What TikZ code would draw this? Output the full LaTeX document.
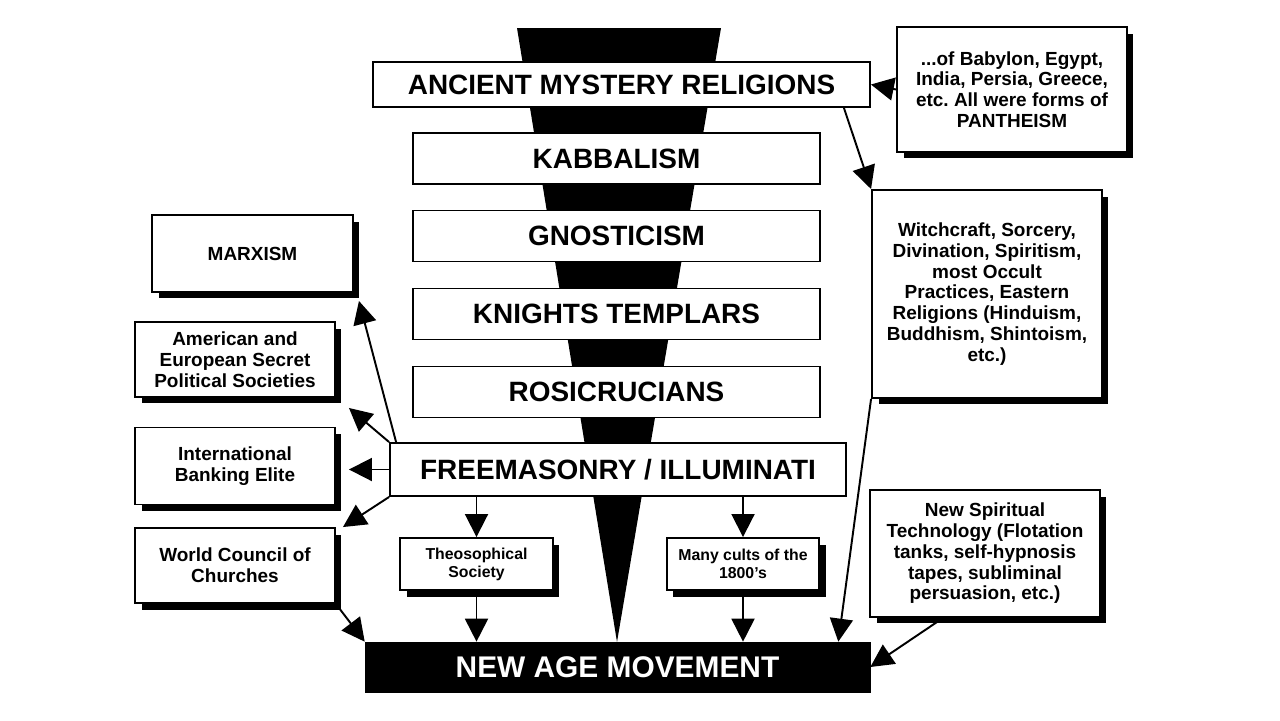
\documentclass[tikz,border=0pt]{standalone}
\usepackage{fontspec}
\setmainfont{Liberation Sans}
\usetikzlibrary{arrows.meta,shadows}
\frenchspacing

\begin{document}
\begin{tikzpicture}[
    x=0.02cm, y=-0.02cm,
    every node/.style={align=center, inner sep=0pt},
    mainbox/.style={draw, fill=white, line width=1.1pt, font=\fontsize{15.9}{19}\selectfont\bfseries},
    layerbox/.style={mainbox, minimum width=8.14cm, minimum height=1.02cm},
    sidebox/.style={draw, fill=white, line width=1.1pt, font=\fontsize{10.8}{11.8}\selectfont\bfseries,
        drop shadow={shadow xshift=0.13cm, shadow yshift=-0.13cm, fill=black, opacity=1}},
    cultbox/.style={sidebox, font=\fontsize{9}{10.2}\selectfont\bfseries, minimum width=3.05cm, minimum height=1.04cm},
    arr/.style={line width=1.1pt, -{Triangle[length=0.46cm, width=0.46cm]}}
]
\useasboundingbox (0,0) rectangle (1280,720);

% funnel behind the column
\fill (517,28) -- (721,28) -- (617,642) -- cycle;

% central column
\node[mainbox, minimum width=9.94cm, minimum height=0.9cm] (anc) at (621.5,84.5) {ANCIENT MYSTERY RELIGIONS};
\node[layerbox] (kab) at (616.5,158.5) {KABBALISM};
\node[layerbox] (gno) at (616.5,236) {GNOSTICISM};
\node[layerbox] (kni) at (616.5,314) {KNIGHTS TEMPLARS};
\node[layerbox] (ros) at (616.5,392) {ROSICRUCIANS};
\node[mainbox, minimum width=9.12cm, minimum height=1.06cm] (fm) at (618,469.5) {FREEMASONRY / ILLUMINATI};
\node[draw, fill=black, text=white, minimum width=10.1cm, minimum height=1.0cm,
      font=\fontsize{17}{20}\selectfont\bfseries] (nam) at (617.5,667) {NEW AGE MOVEMENT};

% right side
\node[sidebox, minimum width=4.6cm, minimum height=2.5cm] (bab) at (1012,89.5)
    {...of Babylon, Egypt,\\India, Persia, Greece,\\etc. All were forms of\\PANTHEISM};
\node[sidebox, minimum width=4.6cm, minimum height=4.16cm] (wit) at (987,294)
    {Witchcraft, Sorcery,\\Divination, Spiritism,\\most Occult\\Practices, Eastern\\Religions (Hinduism,\\Buddhism, Shintoism,\\etc.)};
\node[sidebox, minimum width=4.6cm, minimum height=2.54cm] (nst) at (985,553.5)
    {New Spiritual\\Technology (Flotation\\tanks, self-hypnosis\\tapes, subliminal\\persuasion, etc.)};

% left side
\node[sidebox, minimum width=4.02cm, minimum height=1.54cm] (mar) at (252.5,253.5) {MARXISM};
\node[sidebox, minimum width=4.0cm, minimum height=1.5cm] (ame) at (235,359.5)
    {American and\\European Secret\\Political Societies};
\node[sidebox, minimum width=4.0cm, minimum height=1.54cm] (ban) at (235,466) {International\\Banking Elite};
\node[sidebox, minimum width=4.0cm, minimum height=1.5cm] (wcc) at (235,565.5) {World Council of\\Churches};

% below freemasonry
\node[cultbox] (the) at (476.5,564) {Theosophical\\Society};
\node[cultbox] (cul) at (743,564) {Many cults of the\\1800's};

% connectors
\draw[arr] (bab.west) -- (anc.east);
\draw[arr] ([xshift=-0.54cm]anc.south east) -- (wit.north west);
\draw[arr] (wit.south west) -- ([xshift=-0.64cm]nam.north east);
\draw[arr] ([xshift=-0.84cm]nst.south) -- (nam.east);
\draw[arr] ([xshift=0.14cm]fm.north west) -- ([shift={(0.1cm,-0.16cm)}]mar.south east);
\draw[arr] (fm.north west) -- ([shift={(0.26cm,-0.2cm)}]ame.south east);
\draw[arr, shorten >=0.26cm] (fm.west) -- (fm.west -| ban.east);
\draw[arr] (fm.south west) -- ([xshift=0.14cm]wcc.north east);
\draw[arr] (wcc.south east) -- (nam.north west);
\draw[arr] (fm.south -| the.north) -- (the.north);
\draw[arr] (the.south) -- (the.south |- nam.north);
\draw[arr] (fm.south -| cul.north) -- (cul.north);
\draw[arr] (cul.south) -- (cul.south |- nam.north);
\end{tikzpicture}
\end{document}
